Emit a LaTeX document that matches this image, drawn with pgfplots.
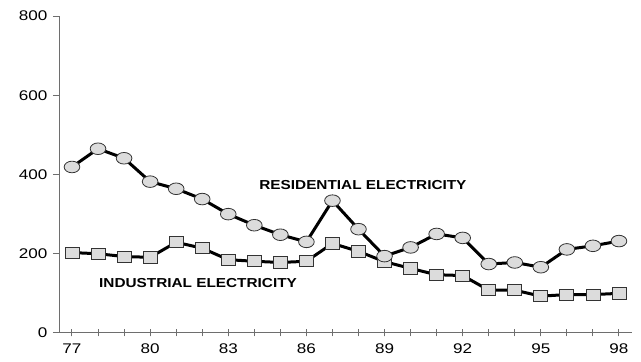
\documentclass[border=0pt]{standalone}
\usepackage{fontspec}
\setmainfont{Liberation Sans}
\newfontfamily\tickfont[FakeStretch=1.22]{Liberation Sans}
\newfontfamily\labfont[FakeStretch=1.18]{Liberation Sans}
\usepackage{pgfplots}
\pgfplotsset{compat=1.18}

\definecolor{markfill}{HTML}{DCDCDC}
\definecolor{axisgray}{HTML}{6E6E6E}

\begin{document}
\begin{tikzpicture}
\begin{axis}[
    scale only axis,
    width=572pt, height=317pt,
    xmin=76.54, xmax=98.5,
    ymin=0, ymax=800,
    axis lines=left,
    axis line style={-, axisgray, line width=1pt},
    xtick={77,80,...,98},
    minor xtick={77,...,98},
    ytick={0,200,...,800},
    xtick align=center,
    ytick align=outside,
    major tick length=7pt,
    minor tick length=7pt,
    tick style={axisgray, line width=1pt},
    /pgf/number format/assume math mode=true,
    tick label style={font=\tickfont\fontsize{14}{16}\selectfont},
    xticklabel style={yshift=-4pt},
    yticklabel style={xshift=-2pt},
    clip=false,
]
% industrial
\addplot[black, line width=3pt, mark=square*,
    mark options={fill=markfill, draw=black!80, line width=0.8pt, mark size=7pt, yscale=0.8}]
coordinates {
(77,203) (78,200) (79,193) (80,191) (81,229) (82,214) (83,185) (84,181)
(85,178) (86,181) (87,226) (88,206) (89,180) (90,163) (91,147) (92,145)
(93,108) (94,108) (95,93) (96,97) (97,97) (98,100)
};
% residential
\addplot[black, line width=3pt, mark=*,
    mark options={fill=markfill, draw=black!80, line width=0.8pt, mark size=5.8pt, xscale=1.35}]
coordinates {
(77,419) (78,465) (79,441) (80,382) (81,364) (82,338) (83,300) (84,272)
(85,248) (86,230) (87,334) (88,262) (89,194) (90,216) (91,250) (92,240)
(93,174) (94,178) (95,166) (96,211) (97,220) (98,232)
};
\node[font=\labfont\fontsize{13}{15}\selectfont\bfseries] at (axis cs:88.17,374) {RESIDENTIAL ELECTRICITY};
\node[font=\labfont\fontsize{13}{15}\selectfont\bfseries] at (axis cs:81.84,126) {INDUSTRIAL ELECTRICITY};
\end{axis}
\path (-60pt,-29pt) rectangle (581pt,333pt);
\end{tikzpicture}
\end{document}
